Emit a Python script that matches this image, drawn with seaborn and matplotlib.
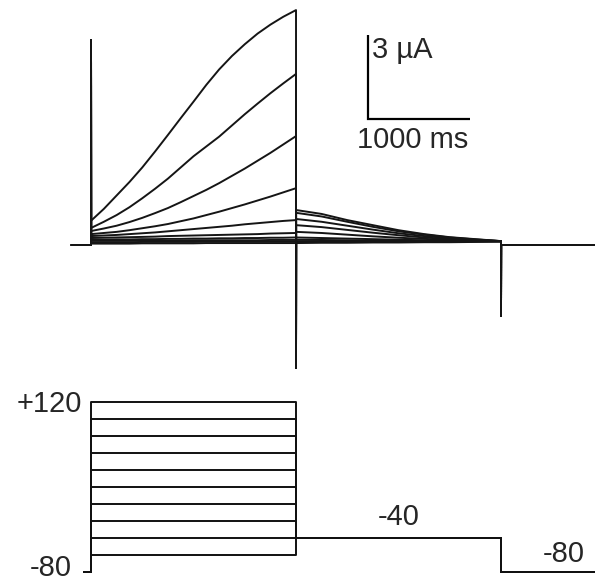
import numpy as np
import pandas as pd
import matplotlib
matplotlib.use("Agg")
import matplotlib.pyplot as plt
import seaborn as sns

# ---- recorded sweeps (currents in µA, times in ms) ----
step_voltages = [120, 100, 80, 60, 40, 20, 0, -20, -40, -60]   # mV, test pulse
holding_mv = -80
tail_mv = -40

pulse_t = [0, 125, 250, 375, 500, 625, 750, 875, 1000,
           1125, 1250, 1375, 1500, 1625, 1750, 1875, 2000]
tail_t = [2001, 2250, 2500, 2750, 3000, 3250, 3500, 3750, 4000]

pulse_current = [
    [0.80, 1.22, 1.70, 2.18, 2.70, 3.27, 3.86, 4.46, 5.05,
     5.65, 6.20, 6.68, 7.10, 7.48, 7.80, 8.08, 8.32],
    [0.54, 0.76, 1.00, 1.28, 1.60, 1.94, 2.30, 2.70, 3.10,
     3.45, 3.80, 4.20, 4.60, 4.98, 5.35, 5.70, 6.04],
    [0.43, 0.52, 0.62, 0.75, 0.90, 1.07, 1.25, 1.46, 1.68,
     1.90, 2.14, 2.40, 2.66, 2.94, 3.22, 3.52, 3.82],
    [0.32, 0.36, 0.40, 0.46, 0.53, 0.60, 0.68, 0.78, 0.88,
     1.00, 1.12, 1.25, 1.38, 1.52, 1.66, 1.81, 1.96],
    [0.25, 0.27, 0.29, 0.32, 0.35, 0.38, 0.42, 0.46, 0.50,
     0.54, 0.58, 0.62, 0.67, 0.71, 0.75, 0.79, 0.82],
    [0.18, 0.19, 0.20, 0.21, 0.22, 0.23, 0.25, 0.26, 0.27,
     0.28, 0.29, 0.30, 0.31, 0.32, 0.34, 0.35, 0.36],
    [0.12, 0.12, 0.13, 0.13, 0.14, 0.14, 0.15, 0.15, 0.16,
     0.16, 0.17, 0.17, 0.18, 0.18, 0.19, 0.19, 0.20],
    [0.08, 0.08, 0.08, 0.08, 0.09, 0.09, 0.09, 0.09, 0.10,
     0.10, 0.10, 0.10, 0.10, 0.10, 0.11, 0.11, 0.11],
    [0.03, 0.03, 0.03, 0.03, 0.04, 0.04, 0.04, 0.04, 0.04,
     0.05, 0.05, 0.05, 0.05, 0.05, 0.05, 0.05, 0.05],
    [-0.02, -0.02, -0.02, -0.02, -0.01, -0.01, -0.01, -0.01, -0.01,
     0.00, 0.00, 0.00, 0.00, 0.00, 0.00, 0.00, 0.00],
]

tail_current = [
    [1.18, 1.04, 0.82, 0.64, 0.46, 0.32, 0.21, 0.14, 0.07],
    [1.08, 0.95, 0.76, 0.58, 0.42, 0.30, 0.20, 0.13, 0.07],
    [0.86, 0.76, 0.62, 0.48, 0.35, 0.25, 0.17, 0.11, 0.07],
    [0.64, 0.57, 0.47, 0.37, 0.28, 0.20, 0.14, 0.10, 0.07],
    [0.40, 0.36, 0.30, 0.24, 0.19, 0.15, 0.11, 0.08, 0.07],
    [0.20, 0.18, 0.16, 0.14, 0.12, 0.10, 0.08, 0.07, 0.07],
    [0.12, 0.11, 0.10, 0.09, 0.08, 0.08, 0.07, 0.07, 0.07],
    [0.07, 0.07, 0.07, 0.07, 0.07, 0.07, 0.07, 0.07, 0.07],
    [0.03, 0.04, 0.04, 0.04, 0.05, 0.05, 0.05, 0.06, 0.06],
    [0.00, 0.01, 0.01, 0.02, 0.02, 0.03, 0.03, 0.04, 0.05],
]

# baseline levels and capacitive transients
pre_t = [-190, 0]
pre_current = [-0.07, -0.07]
post_t = [4001, 4920]
post_current = [-0.07, -0.07]
transient_t = [0, 2000, 4000]
transient_peak = [7.25, -4.46, -2.60]

t_start, t_end = -888, 4917

# ---- build long-form tables ----
rows = []
for k in range(len(step_voltages)):
    t = (pre_t + [transient_t[0]] + [pulse_t[0] + 1] + pulse_t[1:] +
         [transient_t[1]] + tail_t + [transient_t[2]] + post_t)
    i = (pre_current + [transient_peak[0]] + pulse_current[k] +
         [transient_peak[1]] + tail_current[k] + [transient_peak[2]] +
         post_current)
    for a, b in zip(t, i):
        rows.append({"sweep": k, "time": a, "current": b})
traces = pd.DataFrame(rows)

prot_rows = []
for k, v in enumerate(step_voltages):
    pt = [-68, 0, 0, 2000, 2000, 4000, 4000, t_end]
    pv = [holding_mv, holding_mv, v, v, tail_mv, tail_mv, holding_mv, holding_mv]
    for a, b in zip(pt, pv):
        prot_rows.append({"sweep": k, "time": a, "voltage": b})
protocol = pd.DataFrame(prot_rows)

# ---- figure ----
sns.set_style("white")
plt.rcParams["font.family"] = ["Liberation Sans", "DejaVu Sans"]

W, H = 595, 583
fig = plt.figure(figsize=(W / 100, H / 100), dpi=100)
ax_i = fig.add_axes([0, 1 - 380 / H, 1, 380 / H])
ax_v = fig.add_axes([0, 0, 1, 203 / H])

sns.lineplot(data=traces, x="time", y="current", units="sweep",
             estimator=None, sort=False, color="#151515", lw=1.4, ax=ax_i)
ax_i.set_xlim(t_start, t_end)
ax_i.set_ylim(-4.89, 8.68)

# scale bar
ax_i.plot([2702, 2702, 3702], [7.43, 4.43, 4.43], color="black", lw=1.6,
          solid_joinstyle="miter", solid_capstyle="butt")
fs = 21
ax_i.text(2745, 6.61, "3 µA", fontsize=fs, ha="left", va="baseline")
ax_i.text(3140, 3.39, "1000 ms", fontsize=fs, ha="center", va="baseline")

sns.lineplot(data=protocol, x="time", y="voltage", units="sweep",
             estimator=None, sort=False, color="#111111", lw=1.4, ax=ax_v)
ax_v.set_xlim(t_start, t_end)
ax_v.set_ylim(-92.9, 145.9)

ax_v.text(-88, 108.2, "+120", fontsize=fs, ha="right", va="baseline")
ax_v.text(-185, -84.7, "-80", fontsize=fs, ha="right", va="baseline")
ax_v.text(3005, -24.7, "-40", fontsize=fs, ha="center", va="baseline")
ax_v.text(4615, -68.2, "-80", fontsize=fs, ha="center", va="baseline")

for ax in (ax_i, ax_v):
    ax.set_axis_off()
    ax.patch.set_alpha(0)

fig.savefig("out.png", dpi=100, facecolor="white")
